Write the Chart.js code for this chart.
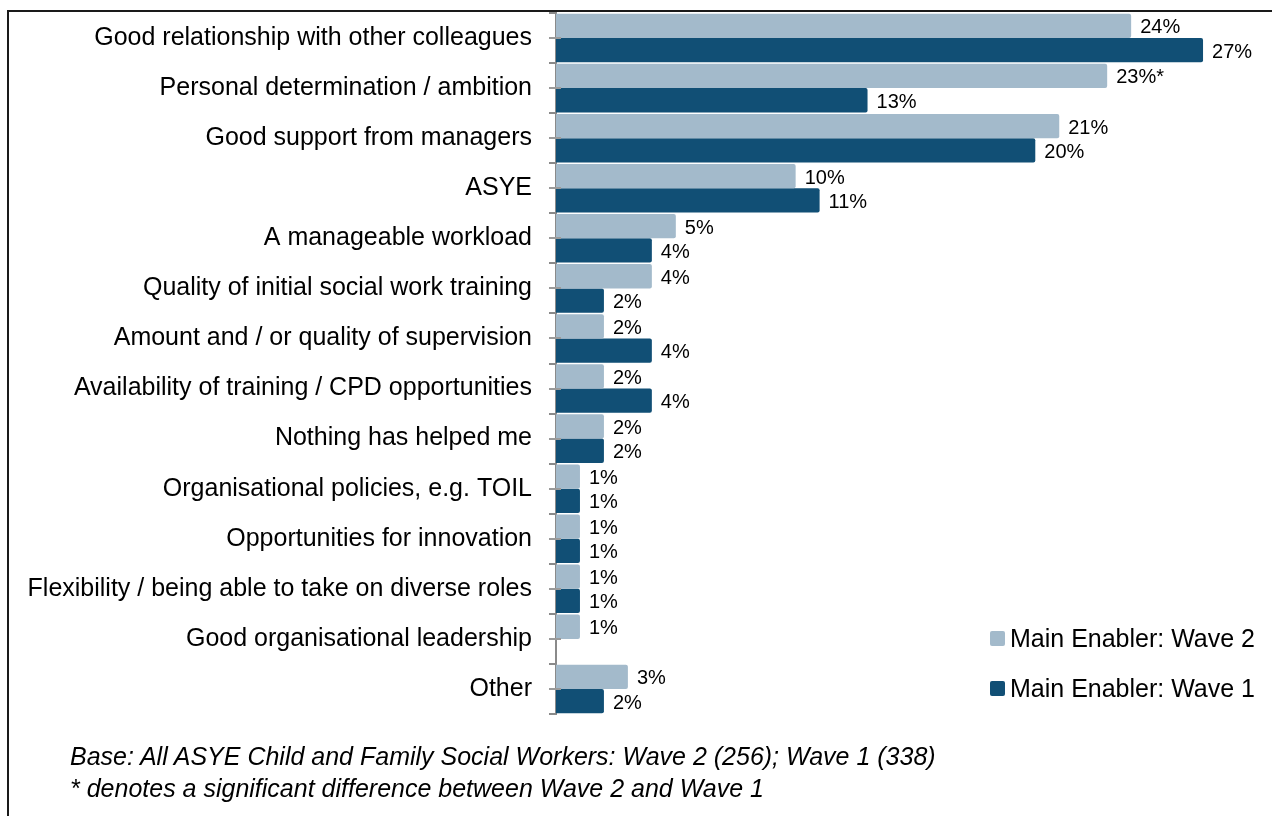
<!DOCTYPE html>
<html>
<head>
<meta charset="utf-8">
<script src="https://cdn.jsdelivr.net/npm/chart.js@4.4.1/dist/chart.umd.min.js"></script>
<style>
  html, body { margin: 0; padding: 0; background: #fff; }
  body { width: 1272px; height: 816px; position: relative; overflow: hidden;
         font-family: "Liberation Sans", Arial, sans-serif; }
  #frame { position: absolute; left: 7px; top: 10px; width: 1270px; height: 810px;
           border-left: 2px solid #1a1a1a; border-top: 2px solid #1a1a1a; }
  #chart { position: absolute; left: 0; top: 0; }
  .legend-item { position: absolute; left: 990px; display: flex; align-items: center;
                 font-size: 25px; color: #000; height: 30px; white-space: nowrap; }
  .legend-swatch { width: 15px; height: 15px; border-radius: 2px; margin-right: 5px; }
  #note { position: absolute; left: 70px; top: 740px; font-size: 25px; font-style: italic;
          line-height: 32px; color: #000; white-space: nowrap; }
</style>
</head>
<body>
<div id="frame"></div>
<canvas id="chart" width="1272" height="816"></canvas>
<div id="legend"></div>
<div id="note"></div>
<script>
// Enablers reported by ASYE social workers, by survey wave
const categories = [
  'Good relationship with other colleagues',
  'Personal determination / ambition',
  'Good support from managers',
  'ASYE',
  'A manageable workload',
  'Quality of initial social work training',
  'Amount and / or quality of supervision',
  'Availability of training / CPD opportunities',
  'Nothing has helped me',
  'Organisational policies, e.g. TOIL',
  'Opportunities for innovation',
  'Flexibility / being able to take on diverse roles',
  'Good organisational leadership',
  'Other'
];
const wave2Values = [24, 23, 21, 10, 5, 4, 2, 2, 2, 1, 1, 1, 1, 3];
const wave1Values = [27, 13, 20, 11, 4, 2, 4, 4, 2, 1, 1, 1, null, 2];
// '*' flags a significant difference between the waves
const wave2Marks = ['', '*', '', '', '', '', '', '', '', '', '', '', '', ''];
const wave1Marks = ['', '', '', '', '', '', '', '', '', '', '', '', '', ''];
const seriesNames = ['Main Enabler: Wave 2', 'Main Enabler: Wave 1'];
const seriesColors = ['#a3bacb', '#114f75'];
const noteLines = [
  'Base: All ASYE Child and Family Social Workers: Wave 2 (256); Wave 1 (338)',
  '* denotes a significant difference between Wave 2 and Wave 1'
];

const FONT = '"Liberation Sans", Arial, sans-serif';

// Value labels to the right of each bar
const valueLabels = {
  id: 'valueLabels',
  afterDatasetsDraw(chart) {
    const ctx = chart.ctx;
    const marks = [wave2Marks, wave1Marks];
    ctx.save();
    ctx.font = '20px ' + FONT;
    ctx.fillStyle = '#000';
    ctx.textAlign = 'left';
    ctx.textBaseline = 'middle';
    chart.data.datasets.forEach((ds, di) => {
      const meta = chart.getDatasetMeta(di);
      meta.data.forEach((bar, i) => {
        const v = ds.data[i];
        if (v === null || v === undefined) return;
        ctx.fillText(v + '%' + marks[di][i], bar.x + 9, bar.y + 2);
      });
    });
    ctx.restore();
  }
};

// Small marks at each category centre on the vertical axis
const centreTicks = {
  id: 'centreTicks',
  afterDatasetsDraw(chart) {
    const y = chart.scales.y;
    const ctx = chart.ctx;
    const x0 = chart.chartArea.left;
    ctx.save();
    ctx.strokeStyle = '#9a9a9a';
    ctx.lineWidth = 2;
    categories.forEach((c, i) => {
      const py = Math.round(y.getPixelForValue(i));
      ctx.beginPath();
      ctx.moveTo(x0 - 7, py);
      ctx.lineTo(x0 + 5, py);
      ctx.stroke();
    });
    ctx.restore();
  }
};

new Chart(document.getElementById('chart'), {
  type: 'bar',
  data: {
    labels: categories,
    datasets: [
      { label: seriesNames[0], data: wave2Values, backgroundColor: seriesColors[0],
        borderRadius: 2, borderSkipped: 'start' },
      { label: seriesNames[1], data: wave1Values, backgroundColor: seriesColors[1],
        borderRadius: 2, borderSkipped: 'start' }
    ]
  },
  options: {
    indexAxis: 'y',
    responsive: false,
    animation: false,
    devicePixelRatio: 1,
    datasets: { bar: { categoryPercentage: 0.97, barPercentage: 1.0 } },
    layout: { padding: { top: 13, bottom: 102, left: 0, right: 45 } },
    plugins: { legend: { display: false }, tooltip: { enabled: false } },
    scales: {
      x: { min: 0, max: 28, display: false },
      y: {
        type: 'category',
        offset: true,
        grid: { offset: true, drawOnChartArea: false, tickLength: 7,
                color: '#8a8a8a', lineWidth: 2 },
        border: { color: '#8a8a8a', width: 2 },
        ticks: { font: { size: 25, family: FONT }, color: '#000', padding: 17, autoSkip: false },
        afterFit(scale) {
          scale.width = 556;
          scale.paddingTop = 0;
          scale.paddingBottom = 0;
        }
      }
    }
  },
  plugins: [valueLabels, centreTicks]
});

// Legend and base note
const legend = document.getElementById('legend');
const legendCentres = [638, 688];
seriesNames.forEach((name, i) => {
  const item = document.createElement('div');
  item.className = 'legend-item';
  item.style.top = (legendCentres[i] - 15) + 'px';
  const sw = document.createElement('span');
  sw.className = 'legend-swatch';
  sw.style.background = seriesColors[i];
  const tx = document.createElement('span');
  tx.textContent = name;
  item.appendChild(sw);
  item.appendChild(tx);
  legend.appendChild(item);
});
document.getElementById('note').innerHTML = noteLines.map(l => '<div>' + l + '</div>').join('');
</script>
</body>
</html>
